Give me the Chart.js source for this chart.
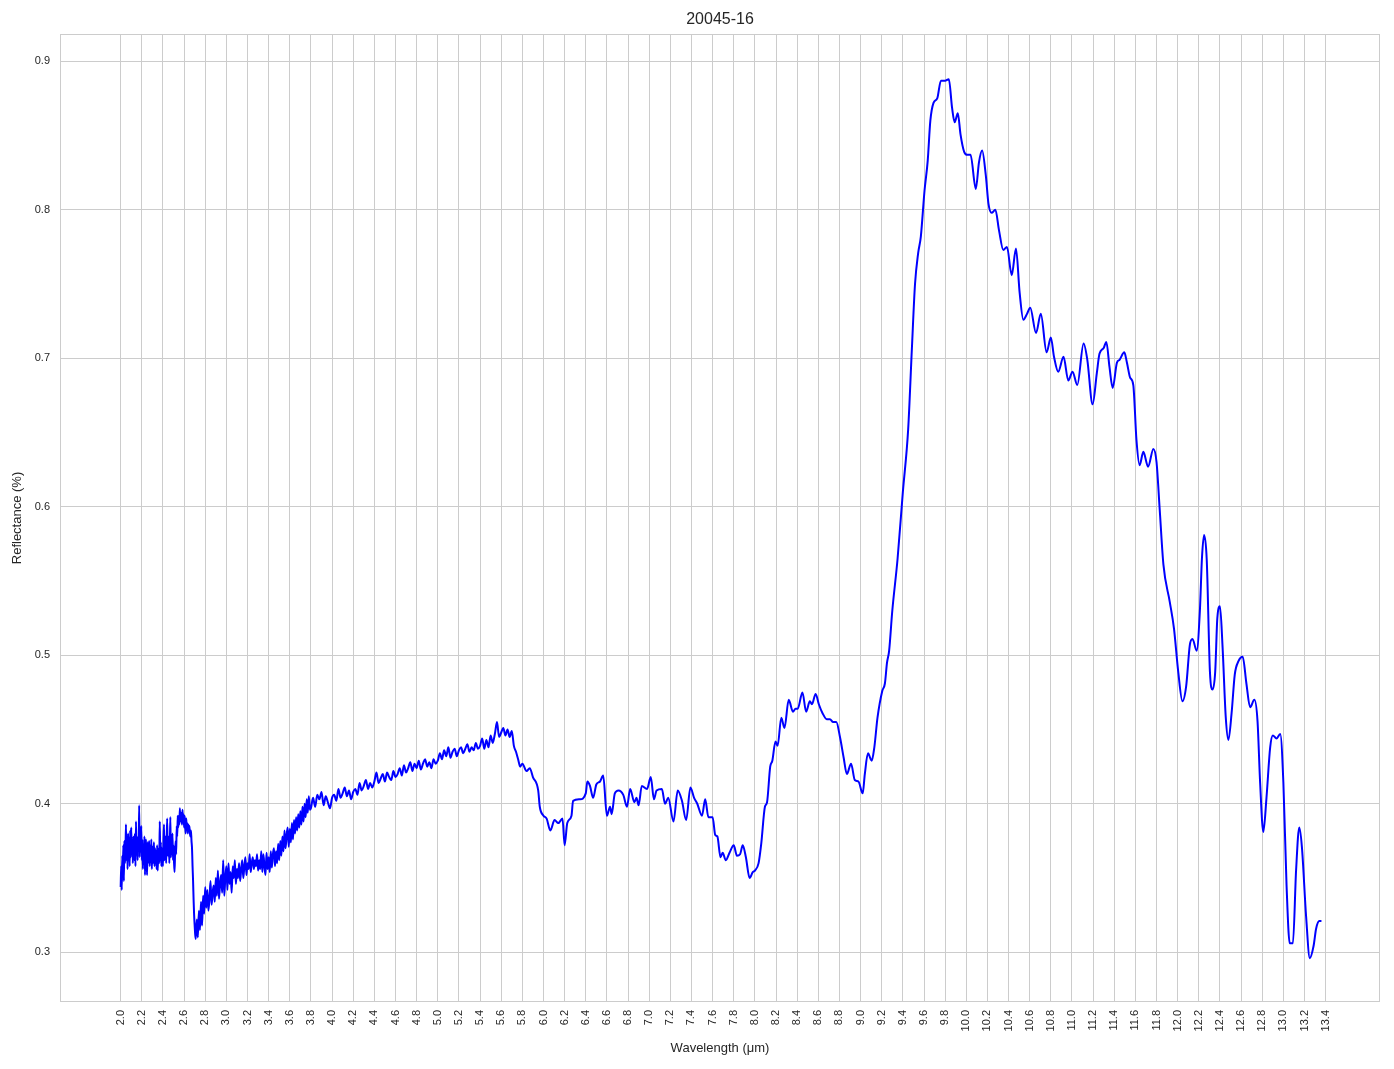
<!DOCTYPE html>
<html>
<head>
<meta charset="utf-8">
<title>20045-16</title>
<script src="https://cdn.jsdelivr.net/npm/chart.js"></script>
<style>
  html, body { margin: 0; padding: 0; background: #ffffff; }
  canvas { display: block; }
</style>
</head>
<body>
<canvas id="chart" width="1394" height="1069"></canvas>
<script>
// wavelength in um, reflectance
const wavelength = [
  2.000, 2.005, 2.010, 2.015, 2.020, 2.025, 2.030, 2.035, 2.040, 2.045,
  2.050, 2.055, 2.060, 2.065, 2.070, 2.075, 2.080, 2.085, 2.090, 2.095,
  2.100, 2.105, 2.110, 2.115, 2.120, 2.125, 2.130, 2.135, 2.140, 2.145,
  2.150, 2.155, 2.160, 2.165, 2.170, 2.175, 2.180, 2.185, 2.190, 2.195,
  2.200, 2.205, 2.210, 2.215, 2.220, 2.225, 2.230, 2.235, 2.240, 2.245,
  2.250, 2.255, 2.260, 2.265, 2.270, 2.275, 2.280, 2.285, 2.290, 2.295,
  2.300, 2.305, 2.310, 2.315, 2.320, 2.325, 2.330, 2.335, 2.340, 2.345,
  2.350, 2.355, 2.360, 2.365, 2.370, 2.375, 2.380, 2.385, 2.390, 2.395,
  2.400, 2.405, 2.410, 2.415, 2.420, 2.425, 2.430, 2.435, 2.440, 2.445,
  2.450, 2.455, 2.460, 2.465, 2.470, 2.475, 2.480, 2.485, 2.490, 2.495,
  2.500, 2.505, 2.510, 2.515, 2.520, 2.525, 2.530, 2.535, 2.540, 2.545,
  2.550, 2.555, 2.560, 2.565, 2.570, 2.575, 2.580, 2.585, 2.590, 2.595,
  2.600, 2.605, 2.610, 2.615, 2.620, 2.625, 2.630, 2.635, 2.640, 2.645,
  2.650, 2.655, 2.660, 2.665, 2.670, 2.675, 2.680, 2.685, 2.690, 2.695,
  2.700, 2.705, 2.710,
  2.72, 2.73, 2.74, 2.75, 2.76, 2.77, 2.78, 2.79, 2.80, 2.81,
  2.82, 2.83, 2.84, 2.85, 2.86, 2.87, 2.88, 2.89, 2.90, 2.91,
  2.92, 2.93, 2.94, 2.95, 2.96, 2.97, 2.98, 2.99, 3.00, 3.01,
  3.02, 3.03, 3.04, 3.05, 3.06, 3.07, 3.08, 3.09, 3.10, 3.11,
  3.12, 3.13, 3.14, 3.15, 3.16, 3.17, 3.18, 3.19, 3.20, 3.21,
  3.22, 3.23, 3.24, 3.25, 3.26, 3.27, 3.28, 3.29, 3.30, 3.31,
  3.32, 3.33, 3.34, 3.35, 3.36, 3.37, 3.38, 3.39, 3.40, 3.41,
  3.42, 3.43, 3.44, 3.45, 3.46, 3.47, 3.48, 3.49, 3.50, 3.51,
  3.52, 3.53, 3.54, 3.55, 3.56, 3.57, 3.58, 3.59, 3.60, 3.61,
  3.62, 3.63, 3.64, 3.65, 3.66, 3.67, 3.68, 3.69, 3.70, 3.71,
  3.72, 3.73, 3.74, 3.75, 3.76, 3.77, 3.78, 3.79, 3.80,
  3.82, 3.84, 3.86, 3.88, 3.90, 3.92, 3.94, 3.96, 3.98, 4.00,
  4.02, 4.04, 4.06, 4.08, 4.10, 4.12, 4.14, 4.16, 4.18, 4.20,
  4.22, 4.24, 4.26, 4.28, 4.30, 4.32, 4.34, 4.36, 4.38, 4.40,
  4.42, 4.44, 4.46, 4.48, 4.50, 4.52, 4.54, 4.56, 4.58, 4.60,
  4.62, 4.64, 4.66, 4.68, 4.70, 4.72, 4.74, 4.76, 4.78, 4.80,
  4.82, 4.84, 4.86, 4.88, 4.90, 4.92, 4.94, 4.96, 4.98, 5.00,
  5.02, 5.04, 5.06, 5.08, 5.10, 5.12, 5.14, 5.16, 5.18, 5.20,
  5.22, 5.24, 5.26, 5.28, 5.30, 5.32, 5.34, 5.36, 5.38, 5.40,
  5.42, 5.44, 5.46, 5.48, 5.50, 5.52, 5.54, 5.56, 5.58, 5.60,
  5.62, 5.64, 5.66, 5.68, 5.70, 5.72, 5.74, 5.76, 5.78, 5.80,
  5.84, 5.87, 5.90, 5.95, 5.965, 6.00, 6.03, 6.065, 6.105, 6.14,
  6.18, 6.20, 6.225, 6.265, 6.28, 6.345, 6.40, 6.415, 6.44, 6.47,
  6.50, 6.535, 6.565, 6.60, 6.63, 6.645, 6.675, 6.71, 6.755, 6.79,
  6.82, 6.86, 6.88, 6.90, 6.93, 6.98, 7.015, 7.045, 7.07, 7.12,
  7.15, 7.18, 7.23, 7.27, 7.31, 7.35, 7.39, 7.425, 7.455, 7.50,
  7.53, 7.56, 7.60, 7.625, 7.645, 7.675, 7.695, 7.725, 7.76, 7.80,
  7.83, 7.86, 7.885, 7.915, 7.95, 7.98, 8.00, 8.035, 8.06, 8.095,
  8.115, 8.145, 8.165, 8.195, 8.215, 8.25, 8.28, 8.32, 8.36, 8.385,
  8.405, 8.45, 8.485, 8.52, 8.54, 8.575, 8.605, 8.64, 8.68, 8.71,
  8.74, 8.77, 8.805, 8.84, 8.87, 8.91, 8.945, 8.98, 9.02, 9.04,
  9.07, 9.105, 9.13, 9.16, 9.205, 9.23, 9.25, 9.27, 9.30, 9.35,
  9.40, 9.45, 9.485, 9.515, 9.545, 9.57, 9.605, 9.635, 9.66, 9.69,
  9.725, 9.76, 9.80, 9.835, 9.865, 9.89, 9.92, 9.945, 9.98, 10.01,
  10.04, 10.09, 10.12, 10.15, 10.185, 10.21, 10.24, 10.275, 10.31, 10.35,
  10.385, 10.43, 10.47, 10.505, 10.54, 10.575, 10.605, 10.66, 10.705, 10.76,
  10.80, 10.83, 10.87, 10.92, 10.965, 11.005, 11.05, 11.11, 11.145, 11.195,
  11.235, 11.26, 11.30, 11.325, 11.355, 11.385, 11.425, 11.45, 11.495, 11.52,
  11.55, 11.58, 11.61, 11.64, 11.675, 11.72, 11.77, 11.80, 11.83, 11.865,
  11.925, 11.965, 12.005, 12.045, 12.08, 12.115, 12.14, 12.18, 12.21, 12.23,
  12.25, 12.275, 12.305, 12.33, 12.355, 12.375, 12.40, 12.425, 12.455, 12.48,
  12.51, 12.54, 12.575, 12.615, 12.65, 12.685, 12.725, 12.755, 12.78, 12.81,
  12.84, 12.875, 12.90, 12.935, 12.97, 13.00, 13.03, 13.06, 13.09, 13.12,
  13.15, 13.175, 13.215, 13.25, 13.285, 13.31, 13.34, 13.36
];

const reflectance = [
  0.344, 0.358, 0.342, 0.365, 0.352, 0.372, 0.348, 0.375, 0.360, 0.366,
  0.386, 0.362, 0.378, 0.356, 0.380, 0.368, 0.374, 0.358, 0.382, 0.364,
  0.384, 0.366, 0.376, 0.360, 0.378, 0.370, 0.362, 0.380, 0.358, 0.388,
  0.366, 0.378, 0.362, 0.374, 0.370, 0.399, 0.364, 0.380, 0.368, 0.385,
  0.362, 0.376, 0.356, 0.372, 0.364, 0.378, 0.352, 0.370, 0.376, 0.360,
  0.352, 0.374, 0.360, 0.368, 0.375, 0.358, 0.370, 0.362, 0.376, 0.356,
  0.371, 0.360, 0.366, 0.374, 0.358, 0.370, 0.362, 0.368, 0.356, 0.372,
  0.355, 0.366, 0.370, 0.360, 0.388, 0.362, 0.374, 0.358, 0.370, 0.366,
  0.358, 0.376, 0.386, 0.362, 0.370, 0.378, 0.360, 0.374, 0.390, 0.366,
  0.365, 0.378, 0.360, 0.372, 0.391, 0.364, 0.374, 0.366, 0.380, 0.362,
  0.372, 0.360, 0.354, 0.368, 0.375, 0.366, 0.385, 0.378, 0.392, 0.384,
  0.392, 0.386, 0.397, 0.388, 0.390, 0.394, 0.386, 0.396, 0.388, 0.393,
  0.384, 0.392, 0.386, 0.380, 0.390, 0.384, 0.387, 0.380, 0.386, 0.382,
  0.385, 0.380, 0.378, 0.382, 0.375, 0.370, 0.358, 0.348, 0.335, 0.325,
  0.318, 0.312, 0.309,
  0.322, 0.310, 0.328, 0.315, 0.334, 0.318, 0.338, 0.326, 0.344, 0.330,
  0.342, 0.328, 0.336, 0.348, 0.332, 0.340, 0.345, 0.334, 0.350, 0.338,
  0.355, 0.336, 0.346, 0.352, 0.340, 0.362, 0.338, 0.350, 0.358, 0.342,
  0.360, 0.346, 0.354, 0.340, 0.358, 0.350, 0.362, 0.346, 0.356, 0.350,
  0.360, 0.348, 0.356, 0.362, 0.350, 0.358, 0.364, 0.352, 0.360, 0.356,
  0.366, 0.354, 0.360, 0.364, 0.356, 0.362, 0.358, 0.366, 0.355, 0.362,
  0.356, 0.368, 0.354, 0.366, 0.358, 0.352, 0.367, 0.356, 0.364, 0.354,
  0.368, 0.357, 0.366, 0.370, 0.358, 0.368, 0.360, 0.373, 0.362, 0.375,
  0.365, 0.378, 0.368, 0.382, 0.370, 0.379, 0.384, 0.371, 0.383, 0.374,
  0.387, 0.376, 0.389, 0.380, 0.391, 0.382, 0.393, 0.384, 0.395, 0.386,
  0.398, 0.388, 0.400, 0.391, 0.403, 0.394, 0.405, 0.396, 0.397,
  0.404, 0.398, 0.406, 0.403, 0.408, 0.399, 0.405, 0.401, 0.397, 0.404,
  0.406, 0.402, 0.410, 0.404, 0.407, 0.411, 0.405, 0.409, 0.403, 0.408,
  0.410, 0.406, 0.414, 0.409, 0.412, 0.416, 0.410, 0.414, 0.411, 0.415,
  0.421, 0.414, 0.417, 0.420, 0.415, 0.421, 0.418, 0.416, 0.422, 0.418,
  0.420, 0.424, 0.419, 0.426, 0.421, 0.424, 0.428, 0.422, 0.427, 0.424,
  0.429, 0.423, 0.427, 0.430, 0.425, 0.428, 0.424, 0.430, 0.427, 0.429,
  0.434, 0.430, 0.436, 0.432, 0.438, 0.431, 0.435, 0.437, 0.432, 0.436,
  0.438, 0.434, 0.437, 0.440, 0.435, 0.438, 0.436, 0.441, 0.437, 0.439,
  0.444, 0.437, 0.443, 0.438, 0.446, 0.441, 0.447, 0.455, 0.445, 0.448,
  0.451, 0.446, 0.450, 0.445, 0.449, 0.439, 0.435, 0.430, 0.425, 0.427,
  0.422, 0.424, 0.418, 0.409, 0.398, 0.392, 0.390, 0.382, 0.389, 0.387,
  0.390, 0.372, 0.387, 0.392, 0.402, 0.403, 0.407, 0.415, 0.412, 0.404,
  0.413, 0.415, 0.419, 0.392, 0.398, 0.393, 0.407, 0.409, 0.406, 0.398,
  0.410, 0.401, 0.404, 0.399, 0.412, 0.410, 0.418, 0.403, 0.409, 0.410,
  0.400, 0.404, 0.388, 0.409, 0.402, 0.389, 0.411, 0.404, 0.400, 0.392,
  0.403, 0.391, 0.391, 0.379, 0.378, 0.364, 0.367, 0.362, 0.367, 0.372,
  0.365, 0.366, 0.372, 0.364, 0.350, 0.354, 0.355, 0.360, 0.373, 0.398,
  0.401, 0.425, 0.429, 0.442, 0.439, 0.458, 0.451, 0.470, 0.462, 0.464,
  0.464, 0.475, 0.462, 0.469, 0.467, 0.474, 0.467, 0.461, 0.457, 0.457,
  0.455, 0.455, 0.445, 0.431, 0.420, 0.427, 0.416, 0.415, 0.407, 0.420,
  0.434, 0.429, 0.438, 0.458, 0.476, 0.481, 0.495, 0.503, 0.530, 0.565,
  0.610, 0.652, 0.706, 0.750, 0.771, 0.782, 0.813, 0.833, 0.860, 0.872,
  0.875, 0.887, 0.887, 0.888, 0.869, 0.859, 0.865, 0.851, 0.839, 0.837,
  0.837, 0.814, 0.832, 0.840, 0.823, 0.804, 0.798, 0.800, 0.786, 0.773,
  0.775, 0.756, 0.774, 0.744, 0.726, 0.730, 0.734, 0.717, 0.730, 0.704,
  0.714, 0.701, 0.691, 0.701, 0.685, 0.691, 0.682, 0.710, 0.699, 0.669,
  0.690, 0.703, 0.707, 0.711, 0.694, 0.680, 0.697, 0.699, 0.704, 0.697,
  0.687, 0.682, 0.645, 0.628, 0.637, 0.627, 0.639, 0.630, 0.598, 0.561,
  0.536, 0.518, 0.489, 0.469, 0.479, 0.507, 0.511, 0.503, 0.530, 0.566,
  0.581, 0.564, 0.489, 0.477, 0.489, 0.525, 0.533, 0.505, 0.458, 0.443,
  0.461, 0.487, 0.496, 0.499, 0.481, 0.465, 0.470, 0.456, 0.414, 0.381,
  0.404, 0.438, 0.446, 0.444, 0.447, 0.414, 0.345, 0.306, 0.306, 0.355,
  0.384, 0.371, 0.324, 0.296, 0.304, 0.316, 0.321, 0.321
];

const xTicks = [
  2.0, 2.2, 2.4, 2.6, 2.8, 3.0, 3.2, 3.4, 3.6, 3.8,
  4.0, 4.2, 4.4, 4.6, 4.8, 5.0, 5.2, 5.4, 5.6, 5.8,
  6.0, 6.2, 6.4, 6.6, 6.8, 7.0, 7.2, 7.4, 7.6, 7.8,
  8.0, 8.2, 8.4, 8.6, 8.8, 9.0, 9.2, 9.4, 9.6, 9.8,
  10.0, 10.2, 10.4, 10.6, 10.8, 11.0, 11.2, 11.4, 11.6, 11.8,
  12.0, 12.2, 12.4, 12.6, 12.8, 13.0, 13.2, 13.4
];
const yTicks = [0.3, 0.4, 0.5, 0.6, 0.7, 0.8, 0.9];

const chartTitle = '20045-16';
const xTitle = 'Wavelength (\u03bcm)';
const yTitle = 'Reflectance (%)';

const FONT = "'Liberation Sans', Arial, sans-serif";
const TEXT = '#262626';
const GRID = '#cccccc';

// frame round the plot area + title centred over it (like matplotlib)
const frameAndTitle = {
  id: 'frameAndTitle',
  beforeDatasetsDraw(chart) {
    const { ctx, chartArea: a } = chart;
    ctx.save();
    ctx.strokeStyle = GRID;
    ctx.lineWidth = 1;
    ctx.strokeRect(a.left + 0.5, a.top + 0.5, a.right - a.left - 1, a.bottom - a.top - 1);
    ctx.restore();
  },
  afterDraw(chart) {
    const { ctx, chartArea: a } = chart;
    ctx.save();
    ctx.fillStyle = TEXT;
    ctx.font = '16px ' + FONT;
    ctx.textAlign = 'center';
    ctx.textBaseline = 'middle';
    ctx.fillText(chartTitle, (a.left + a.right) / 2, 20);
    ctx.restore();
  }
};

new Chart(document.getElementById('chart'), {
  type: 'line',
  data: {
    datasets: [{
      data: wavelength.map((w, i) => ({ x: w, y: reflectance[i] })),
      borderColor: '#0000ff',
      borderWidth: 2,
      pointRadius: 0,
      fill: false,
      cubicInterpolationMode: 'monotone'
    }]
  },
  options: {
    responsive: false,
    animation: false,
    layout: { padding: { top: 34, right: 14, bottom: 0, left: 0 } },
    plugins: {
      legend: { display: false },
      tooltip: { enabled: false },
      title: { display: false }
    },
    scales: {
      x: {
        type: 'linear',
        min: 1.426,
        max: 13.914,
        afterBuildTicks: (s) => { s.ticks = xTicks.map(v => ({ value: v })); },
        afterFit: (s) => { s.height = 67; },
        grid: { color: GRID, lineWidth: 1, drawTicks: false },
        border: { display: false },
        ticks: {
          autoSkip: false,
          minRotation: 90,
          maxRotation: 90,
          padding: 8,
          color: TEXT,
          font: { family: FONT, size: 11 },
          callback: (v) => Number(v).toFixed(1)
        },
        title: {
          display: true,
          text: xTitle,
          color: TEXT,
          font: { family: FONT, size: 13 },
          padding: { top: 0, bottom: 13 }
        }
      },
      y: {
        type: 'linear',
        min: 0.2665,
        max: 0.9184,
        afterBuildTicks: (s) => { s.ticks = yTicks.map(v => ({ value: v })); },
        afterFit: (s) => { s.width = 60; },
        grid: { color: GRID, lineWidth: 1, drawTicks: false },
        border: { display: false },
        ticks: {
          padding: 10,
          color: TEXT,
          font: { family: FONT, size: 11 },
          callback: (v) => Number(v).toFixed(1)
        },
        title: {
          display: true,
          text: yTitle,
          color: TEXT,
          font: { family: FONT, size: 13 },
          padding: { top: 10, bottom: 0 }
        }
      }
    }
  },
  plugins: [frameAndTitle]
});
</script>
</body>
</html>
